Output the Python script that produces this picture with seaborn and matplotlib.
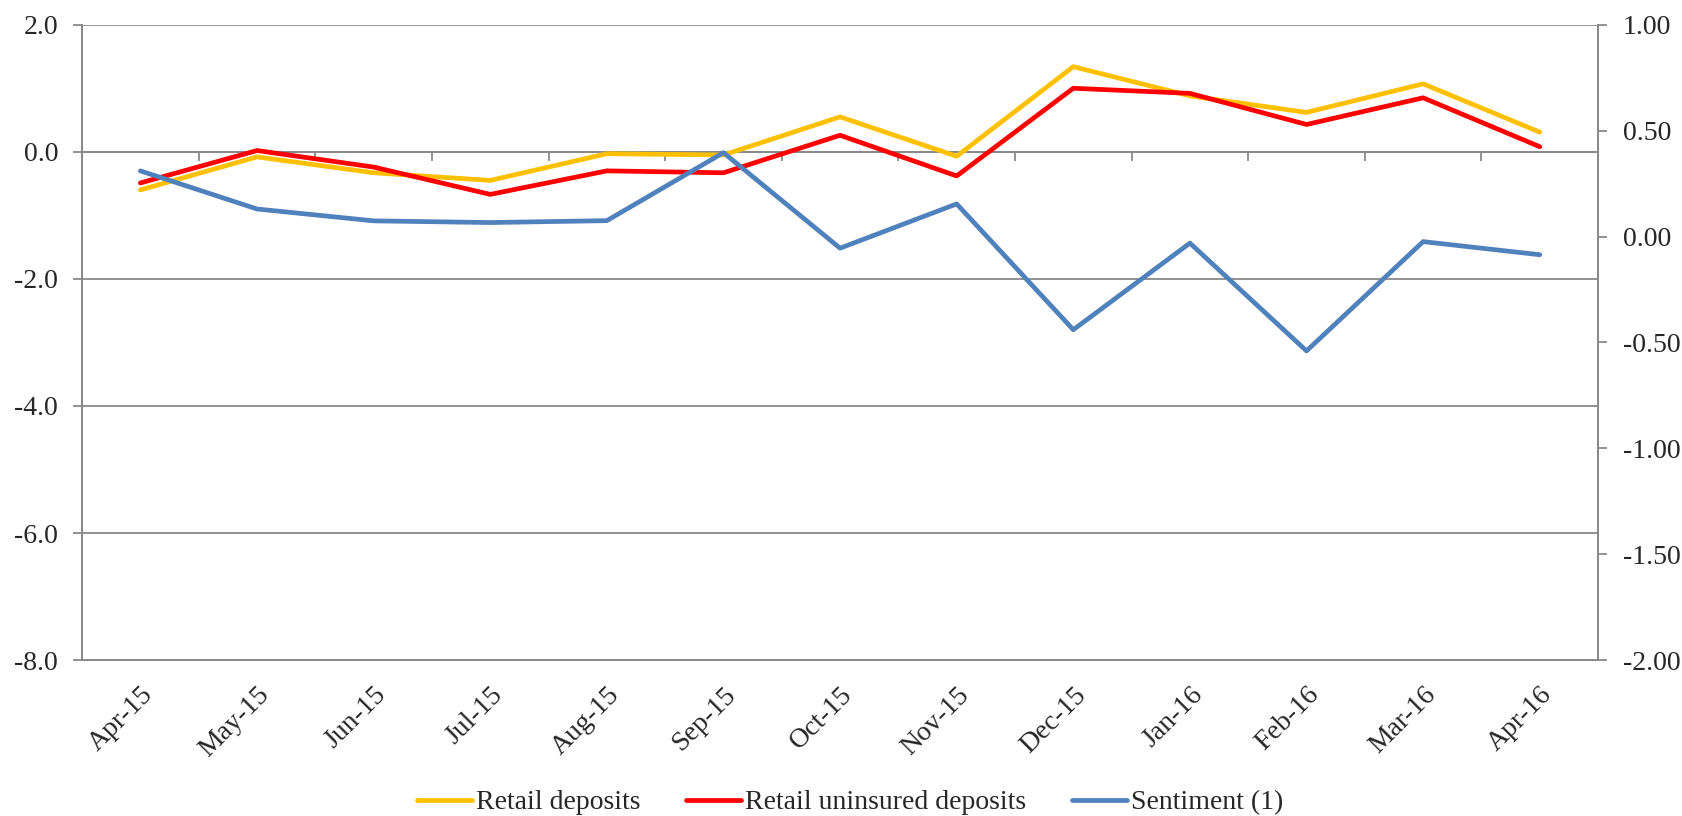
import numpy as np
import pandas as pd
import matplotlib
matplotlib.use("Agg")
import matplotlib.pyplot as plt
import seaborn as sns

months = ["Apr-15", "May-15", "Jun-15", "Jul-15", "Aug-15", "Sep-15", "Oct-15",
          "Nov-15", "Dec-15", "Jan-16", "Feb-16", "Mar-16", "Apr-16"]
retail_deposits = [-0.60, -0.08, -0.33, -0.45, -0.03, -0.05, 0.55,
                   -0.07, 1.34, 0.88, 0.62, 1.07, 0.31]
retail_uninsured = [-0.49, 0.02, -0.24, -0.67, -0.30, -0.33, 0.26,
                    -0.38, 1.00, 0.92, 0.43, 0.85, 0.08]
sentiment = [0.31, 0.13, 0.074, 0.066, 0.075, 0.396, -0.055,
             0.154, -0.44, -0.031, -0.54, -0.024, -0.086]

left_ticks = [-8.0, -6.0, -4.0, -2.0, 0.0, 2.0]
right_ticks = [-2.0, -1.5, -1.0, -0.5, 0.0, 0.5, 1.0]

sns.set_style("white")
plt.rcParams["font.family"] = ["Liberation Serif", "DejaVu Serif"]
plt.rcParams["font.size"] = 20

GRAY = "#898989"
LW = 3.4
pos = np.arange(len(months))
df = pd.DataFrame({"pos": pos, "retail": retail_deposits,
                   "uninsured": retail_uninsured, "sentiment": sentiment})

fig, ax = plt.subplots(figsize=(16.82, 8.16), dpi=100)
fig.subplots_adjust(left=0.0488, right=0.9501, top=0.9697, bottom=0.191)

for y in left_ticks:
    ax.axhline(y, color=GRAY, lw=1.3, zorder=0)

sns.lineplot(data=df, x="pos", y="retail", ax=ax, color="#FFC000", lw=LW,
             label="Retail deposits", sort=False)
sns.lineplot(data=df, x="pos", y="uninsured", ax=ax, color="#FF0000", lw=LW,
             label="Retail uninsured deposits", sort=False)

ax2 = ax.twinx()
sns.lineplot(data=df, x="pos", y="sentiment", ax=ax2, color="#4F81BD", lw=LW,
             label="Sentiment (1)", sort=False)

ax.set_xlim(-0.5, len(months) - 0.5)
ax.set_ylim(left_ticks[0], left_ticks[-1])
ax2.set_ylim(right_ticks[0], right_ticks[-1])

ax.set_yticks(left_ticks)
ax.set_yticklabels([f"{v:.1f}" for v in left_ticks])
ax2.set_yticks(right_ticks)
ax2.set_yticklabels([f"{v:.2f}" for v in right_ticks])

ax.set_xticks(pos)
ax.set_xticklabels(months, rotation=45, ha="right", rotation_mode="anchor")
ax.tick_params(axis="x", length=0, pad=16)
ax.tick_params(axis="y", length=6.5, width=1.3, color=GRAY, pad=10.8, left=True)
ax2.tick_params(axis="y", length=6.5, width=1.3, color=GRAY, pad=11.5, right=True)

ax.set_xlabel("")
ax.set_ylabel("")
ax2.set_ylabel("")

for a in (ax, ax2):
    for sp in a.spines.values():
        sp.set_color(GRAY)
        sp.set_linewidth(1.3)
    a.spines["top"].set_visible(False)

# category axis crossing at zero, with tick marks between months
zero_frac = (0 - left_ticks[0]) / (left_ticks[-1] - left_ticks[0])
cat_axis = ax.secondary_xaxis(zero_frac)
cat_axis.set_xticks(pos[:-1] + 0.5)
cat_axis.tick_params(axis="x", direction="out", length=6.5, width=1.3,
                     color=GRAY, labelbottom=False, labeltop=False,
                     bottom=True, top=False)
cat_axis.xaxis.set_ticks_position("bottom")
cat_axis.set_xticklabels([])
for sp in cat_axis.spines.values():
    sp.set_color(GRAY)
    sp.set_linewidth(1.3)

h1, l1 = ax.get_legend_handles_labels()
h2, l2 = ax2.get_legend_handles_labels()
ax.get_legend().remove()
ax2.get_legend().remove()
fig.legend(h1 + h2, l1 + l2, loc="center", ncol=3, frameon=False,
           bbox_to_anchor=(0.5054, 0.0165), handlelength=1.98, handletextpad=0.15,
           columnspacing=1.65, fontsize=20, borderaxespad=0, borderpad=0)

fig.savefig("out.png", dpi=100)
